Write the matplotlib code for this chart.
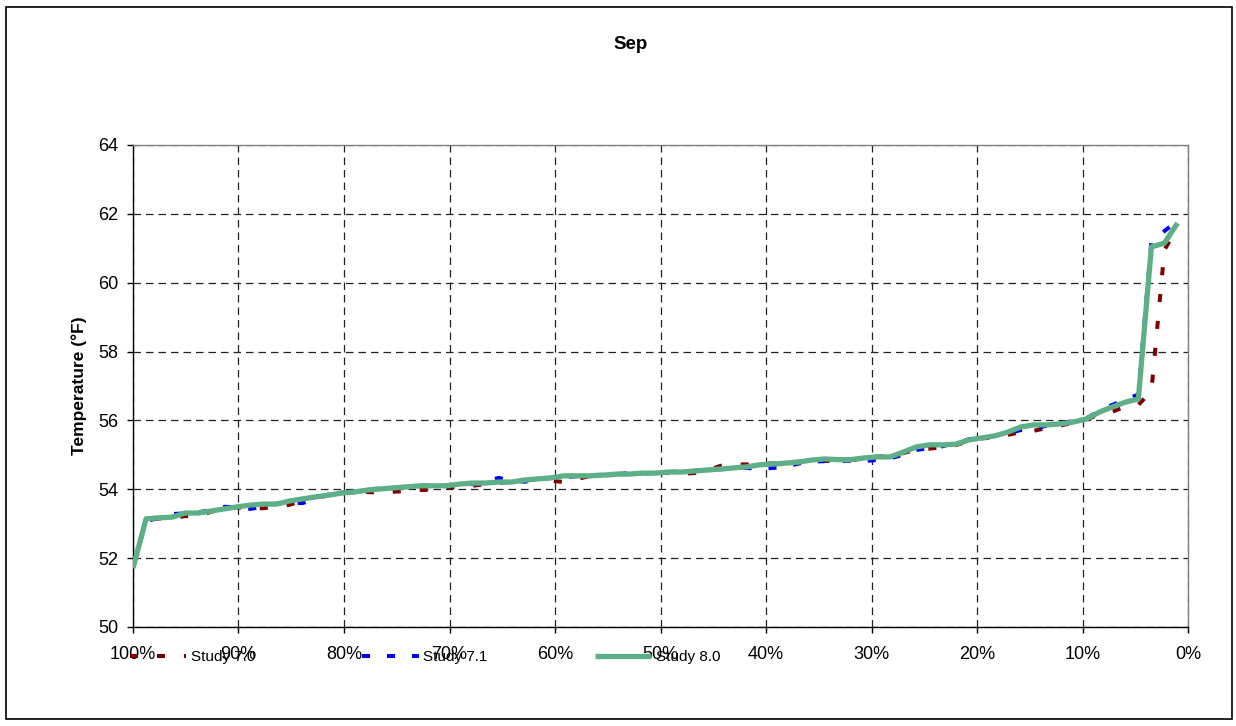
"""
Exceedance curves of September temperature for three model studies.
"""

import matplotlib.pyplot as plt
import numpy as np
from matplotlib.patches import Rectangle

plt.rcParams["font.family"] = ["Liberation Sans", "DejaVu Sans"]

month = "Sep"
series_names = ["Study 7.0", "Study 7.1", "Study 8.0"]

# ranked temperatures (deg F), highest exceedance first
study_70 = [
    51.80, 53.10, 53.15, 53.17, 53.22, 53.22, 53.35, 53.45, 53.47, 53.43,
    53.45, 53.50, 53.55, 53.68, 53.78, 53.84, 53.90, 53.95, 53.92, 53.89,
    53.93, 53.95, 53.98, 53.98, 54.05, 54.07, 54.10, 54.15, 54.18, 54.22,
    54.25, 54.30, 54.25, 54.21, 54.30, 54.38, 54.40, 54.42, 54.45, 54.46,
    54.48, 54.47, 54.45, 54.47, 54.55, 54.68, 54.73, 54.72, 54.74, 54.75,
    54.78, 54.80, 54.80, 54.82, 54.83, 54.85, 54.86, 54.95, 54.97, 55.05,
    55.15, 55.18, 55.22, 55.28, 55.40, 55.48, 55.50, 55.58, 55.66, 55.70,
    55.78, 55.85, 55.93, 56.02, 56.18, 56.25, 56.40, 56.45, 56.85, 60.95,
    61.62,
]
study_71 = [
    51.78, 53.05, 53.20, 53.28, 53.30, 53.33, 53.40, 53.49, 53.48, 53.43,
    53.50, 53.58, 53.60, 53.60, 53.72, 53.85, 53.89, 53.95, 54.00, 54.02,
    54.05, 54.08, 54.10, 54.12, 54.12, 54.13, 54.15, 54.22, 54.33, 54.25,
    54.22, 54.28, 54.33, 54.35, 54.38, 54.41, 54.42, 54.44, 54.47, 54.46,
    54.47, 54.50, 54.52, 54.54, 54.56, 54.58, 54.60, 54.62, 54.59, 54.62,
    54.65, 54.75, 54.80, 54.82, 54.82, 54.83, 54.82, 54.85, 54.90, 55.00,
    55.14, 55.20, 55.25, 55.35, 55.45, 55.50, 55.55, 55.62, 55.72, 55.75,
    55.85, 55.92, 55.98, 56.05, 56.28, 56.45, 56.60, 56.75, 61.20, 61.50,
    61.80,
]
study_80 = [
    51.71, 53.14, 53.17, 53.19, 53.31, 53.31, 53.37, 53.43, 53.49, 53.54,
    53.57, 53.57, 53.66, 53.72, 53.78, 53.83, 53.89, 53.92, 53.98, 54.01,
    54.04, 54.07, 54.10, 54.10, 54.10, 54.15, 54.18, 54.18, 54.21, 54.21,
    54.27, 54.30, 54.33, 54.39, 54.39, 54.39, 54.41, 54.44, 54.44, 54.47,
    54.47, 54.50, 54.50, 54.53, 54.56, 54.59, 54.62, 54.65, 54.71, 54.73,
    54.76, 54.79, 54.85, 54.88, 54.86, 54.86, 54.91, 54.94, 54.94, 55.08,
    55.23, 55.29, 55.29, 55.31, 55.43, 55.49, 55.55, 55.66, 55.81, 55.87,
    55.87, 55.90, 55.95, 56.04, 56.24, 56.39, 56.53, 56.62, 61.04, 61.15,
    61.73,
]

x_ticks = [100, 90, 80, 70, 60, 50, 40, 30, 20, 10, 0]
x_tick_labels = ["100%", "90%", "80%", "70%", "60%", "50%", "40%", "30%", "20%", "10%", "0%"]
y_ticks = [50, 52, 54, 56, 58, 60, 62, 64]

# exceedance position of each ranked value
exceed = np.linspace(100, 1, len(study_80))

fig = plt.figure(figsize=(12.36, 7.26), dpi=100)
ax = fig.add_axes([0.1076, 0.1364, 0.8536, 0.6639])

# outer frame of the chart area
fig.patches.append(
    Rectangle((0.005, 0.009), 0.992, 0.981, transform=fig.transFigure,
              fill=False, edgecolor="black", linewidth=1.2)
)

ax.plot(exceed, study_70, color="#800000", linewidth=2.9, dashes=(2.0, 4.7),
        label=series_names[0], zorder=3)
ax.plot(exceed, study_71, color="#0000FF", linewidth=2.9, dashes=(2.0, 4.2),
        label=series_names[1], zorder=4)
ax.plot(exceed, study_80, color="#5DAF85", linewidth=3.8, solid_capstyle="butt",
        label=series_names[2], zorder=5)

ax.set_xlim(100, 0)
ax.set_ylim(50, 64)
ax.set_xticks(x_ticks)
ax.set_xticklabels(x_tick_labels)
ax.set_yticks(y_ticks)
ax.tick_params(axis="both", labelsize=13, direction="out", length=4.5, width=1)
ax.tick_params(axis="x", pad=9)
ax.tick_params(axis="y", pad=6)

ax.grid(True, color="#222222", linestyle=(0, (6, 4)), linewidth=0.9, zorder=1)
ax.set_axisbelow(True)

ax.spines["left"].set_color("black")
ax.spines["bottom"].set_color("black")
ax.spines["top"].set_color("#808080")
ax.spines["right"].set_color("#808080")
for s in ax.spines.values():
    s.set_linewidth(1.0)

ax.set_ylabel("Temperature (°F)", fontsize=12.5, fontweight="bold", labelpad=8)
fig.text(0.51, 0.939, month, fontsize=13.5, fontweight="bold", ha="center", va="center")

fig.legend(loc="center left", bbox_to_anchor=(0.105, 0.095), ncol=3, frameon=False,
           fontsize=11, handlelength=3.7, handletextpad=0.3, columnspacing=7.0,
           borderpad=0, borderaxespad=0)

plt.savefig("out.png", dpi=100)
plt.close()
